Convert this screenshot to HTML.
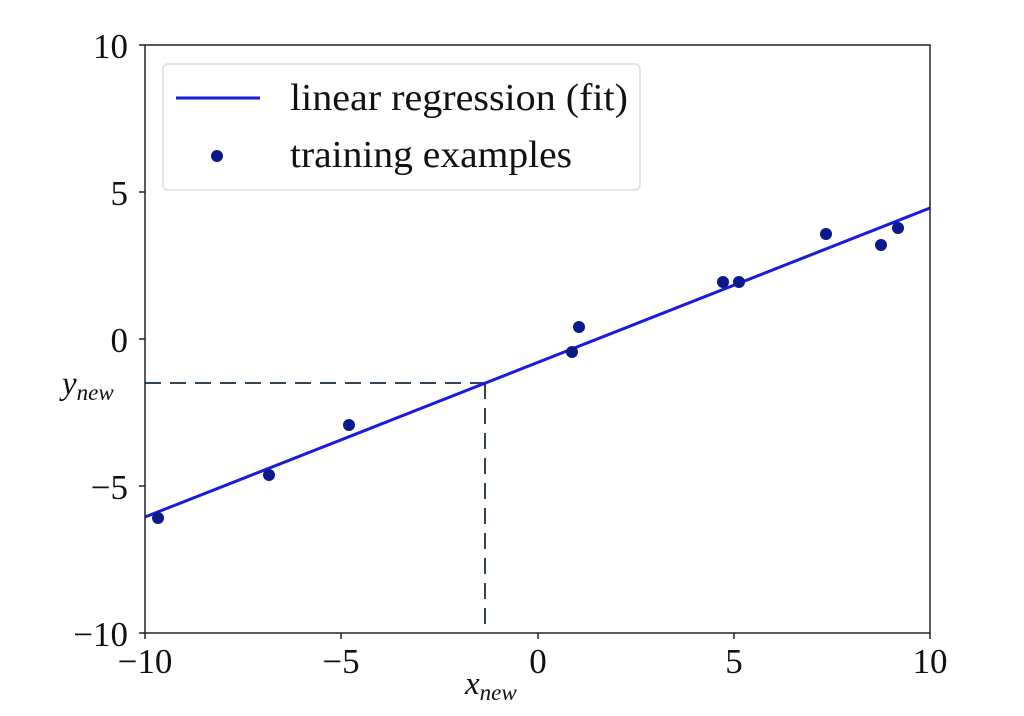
<!DOCTYPE html>
<html><head><style>body{margin:0;background:#fff}</style></head><body>
<svg width="1024" height="711" xmlns="http://www.w3.org/2000/svg" font-family="Liberation Serif, serif">
<rect width="1024" height="711" fill="#fff"/>
<g stroke="#345" stroke-width="2" stroke-dasharray="16,9" fill="none">
<line x1="145" y1="383" x2="485" y2="383"/>
<line x1="485" y1="383" x2="485" y2="633"/>
</g>
<line x1="145" y1="517" x2="930" y2="208" stroke="#1a1ae0" stroke-width="3"/>
<g fill="#0a1a8a">
<circle cx="158" cy="518" r="6"/><circle cx="269" cy="475" r="6"/><circle cx="349" cy="425" r="6"/>
<circle cx="572" cy="352" r="6"/><circle cx="579" cy="327" r="6"/><circle cx="723" cy="282" r="6"/>
<circle cx="739" cy="282" r="6"/><circle cx="826" cy="234" r="6"/><circle cx="881" cy="245" r="6"/>
<circle cx="898" cy="228" r="6"/>
</g>
<rect x="145" y="45" width="785" height="588" fill="none" stroke="#222" stroke-width="1.5"/>
<rect x="163" y="64" width="477" height="126" rx="5" fill="#fff" fill-opacity="0.85" stroke="#ddd" stroke-width="1.5"/>
<line x1="176" y1="98" x2="260" y2="98" stroke="#1a1ae0" stroke-width="3"/>
<circle cx="217" cy="156" r="6" fill="#0a1a8a"/>
<g font-size="38" fill="#111">
<text x="290" y="110" textLength="338" lengthAdjust="spacingAndGlyphs">linear regression (fit)</text>
<text x="290" y="167" textLength="282" lengthAdjust="spacingAndGlyphs">training examples</text>
</g>
<g stroke="#222" stroke-width="1.5">
<line x1="139" y1="45" x2="145" y2="45"/><line x1="139" y1="192" x2="145" y2="192"/>
<line x1="139" y1="339" x2="145" y2="339"/><line x1="139" y1="486" x2="145" y2="486"/>
<line x1="139" y1="633" x2="145" y2="633"/>
<line x1="145" y1="633" x2="145" y2="639"/><line x1="341" y1="633" x2="341" y2="639"/>
<line x1="538" y1="633" x2="538" y2="639"/><line x1="734" y1="633" x2="734" y2="639"/>
<line x1="930" y1="633" x2="930" y2="639"/>
</g>
<g font-size="35" fill="#111" text-anchor="end">
<text x="128" y="58">10</text><text x="128" y="205">5</text><text x="128" y="352">0</text>
<text x="128" y="499">−5</text><text x="128" y="646">−10</text>
</g>
<g font-size="35" fill="#111" text-anchor="middle">
<text x="145" y="673">−10</text><text x="341" y="673">−5</text><text x="538" y="673">0</text>
<text x="734" y="673">5</text><text x="930" y="673">10</text>
</g>
<text x="62" y="394" font-size="33" font-style="italic" fill="#111">y<tspan font-size="23" dy="6">new</tspan></text>
<text x="465" y="694" font-size="33" font-style="italic" fill="#111">x<tspan font-size="23" dy="6">new</tspan></text>
</svg>
</body></html>
